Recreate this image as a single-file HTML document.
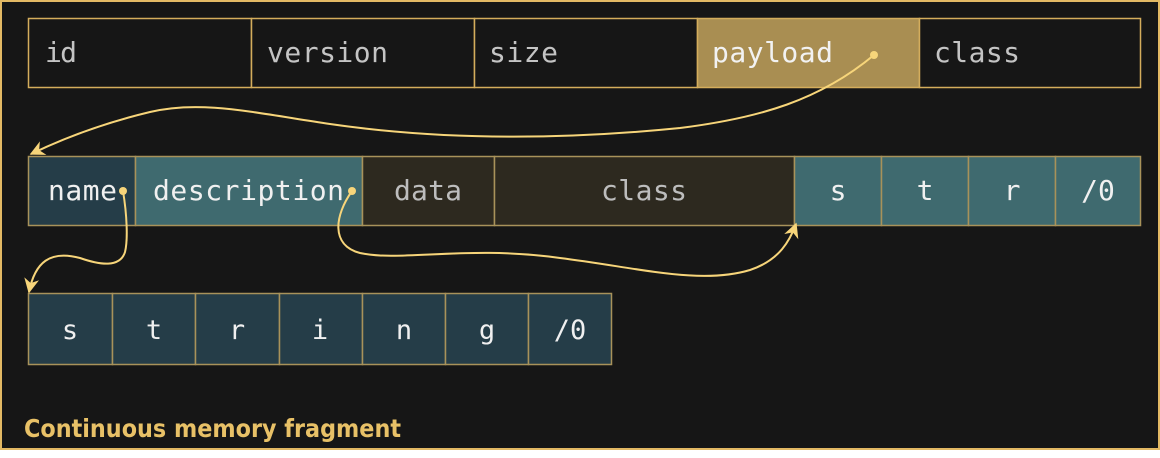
<!DOCTYPE html>
<html><head><style>
html,body{margin:0;padding:0;background:#fff;}
svg{display:block;}
text{font-family:"DejaVu Sans Mono","Liberation Mono",monospace;}
</style></head><body>
<svg width="1160" height="458" viewBox="0 0 1160 458" xmlns="http://www.w3.org/2000/svg">
<defs>
<marker id="ah" viewBox="0 0 10 10" refX="9" refY="5" markerWidth="15" markerHeight="15" orient="auto-start-reverse" markerUnits="userSpaceOnUse">
<path d="M0,0 L10,5 L0,10 L3,5 z" fill="#f7d57a"/>
</marker>
</defs>
<rect x="1" y="1" width="1158" height="448" fill="#161616" stroke="#e3b964" stroke-width="2"/>
<!-- row1 -->
<g stroke="#d4ad5c" stroke-width="1.5">
<rect x="28.5" y="18.5" width="223" height="69" fill="#161616"/>
<rect x="251.5" y="18.5" width="223" height="69" fill="#161616"/>
<rect x="474.5" y="18.5" width="223" height="69" fill="#161616"/>
<rect x="697.5" y="18.5" width="222" height="69" fill="#a98e52"/>
<rect x="919.5" y="18.5" width="221" height="69" fill="#161616"/>
</g>
<g font-size="28" fill="#c4c4c4">
<text x="45" y="62" textLength="32">id</text>
<text x="267" y="62" textLength="121">version</text>
<text x="489" y="62" textLength="69">size</text>
<text x="712" y="62" fill="#f2f2f2" textLength="121">payload</text>
<text x="934" y="62" textLength="86">class</text>
</g>
<!-- row2 -->
<g stroke="#a8925a" stroke-width="1.5">
<rect x="28.5" y="156.5" width="107" height="69" fill="#253d48"/>
<rect x="135.5" y="156.5" width="227" height="69" fill="#3f6a6f"/>
<rect x="362.5" y="156.5" width="132" height="69" fill="#2d291f"/>
<rect x="494.5" y="156.5" width="300" height="69" fill="#2d291f"/>
<rect x="794.5" y="156.5" width="87" height="69" fill="#3f6a6f"/>
<rect x="881.5" y="156.5" width="87" height="69" fill="#3f6a6f"/>
<rect x="968.5" y="156.5" width="87" height="69" fill="#3f6a6f"/>
<rect x="1055.5" y="156.5" width="85" height="69" fill="#3f6a6f"/>
</g>
<g font-size="28" fill="#f0f0f0">
<text x="48" y="200" textLength="69">name</text>
<text x="153" y="200" textLength="191">description</text>
<text x="394" y="200" fill="#bdbdbd" textLength="68">data</text>
<text x="601" y="200" fill="#bdbdbd" textLength="86">class</text>
</g>
<g font-size="28" fill="#f0f0f0" text-anchor="middle">
<text x="838" y="200">s</text>
<text x="925" y="200">t</text>
<text x="1012" y="200">r</text>
<text x="1098" y="200">/0</text>
</g>
<!-- row3 -->
<g stroke="#a8925a" stroke-width="1.5" fill="#253d48">
<rect x="28.5" y="293.5" width="84" height="71"/>
<rect x="112.5" y="293.5" width="83" height="71"/>
<rect x="195.5" y="293.5" width="84" height="71"/>
<rect x="279.5" y="293.5" width="83" height="71"/>
<rect x="362.5" y="293.5" width="83" height="71"/>
<rect x="445.5" y="293.5" width="83" height="71"/>
<rect x="528.5" y="293.5" width="83" height="71"/>
</g>
<g font-size="27" fill="#f0f0f0" text-anchor="middle">
<text x="70" y="339">s</text>
<text x="154" y="339">t</text>
<text x="237" y="339">r</text>
<text x="320" y="339">i</text>
<text x="404" y="339">n</text>
<text x="487" y="339">g</text>
<text x="570" y="339">/0</text>
</g>
<!-- connectors -->
<g fill="none" stroke="#f7d57a" stroke-width="2">
<path d="M874,55 C 820,100 760,118 680,128 C 560,140 440,140 330,124 C 250,112 200,100 150,112 C 100,124 60,140 31,154" marker-end="url(#ah)"/>
<path d="M123,191 C 127,215 128,240 125,252 C 120,268 100,265 80,258 C 50,250 35,262 29,292" marker-end="url(#ah)"/>
<path d="M352,191 C 335,215 330,245 360,253 C 400,262 470,245 560,258 C 640,268 700,285 750,270 C 780,260 790,240 796,224" marker-end="url(#ah)"/>
</g>
<g fill="#f7d57a">
<circle cx="874" cy="55" r="4"/>
<circle cx="123" cy="191" r="4"/>
<circle cx="352" cy="191" r="4"/>
</g>
<text x="24" y="437" font-weight="bold" font-size="25" fill="#e8c167" textLength="377" lengthAdjust="spacingAndGlyphs" style="font-family:'DejaVu Sans','Liberation Sans',sans-serif">Continuous memory fragment</text>
</svg>
</body></html>
